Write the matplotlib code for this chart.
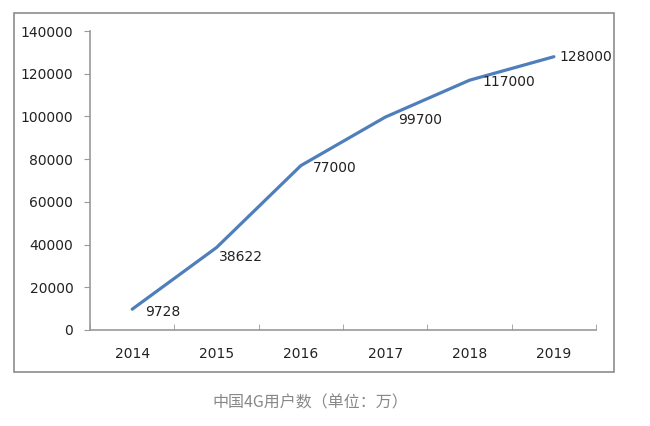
import matplotlib.pyplot as plt
from matplotlib.patches import Rectangle

years = ['2014', '2015', '2016', '2017', '2018', '2019']
users = [9728, 38622, 77000, 99700, 117000, 128000]

# label offsets in points (dx, dy)
offsets = [(9, -2), (2, -7), (9, -2), (9, -2), (9, -1), (4, 0)]

fig = plt.figure(figsize=(6.5, 4.26), dpi=100)
ax = fig.add_axes([0.1385, 0.2254, 0.7785, 0.7016])

x = range(len(years))
ax.plot(x, users, color='#4f7fba', linewidth=2.3, solid_capstyle='round')

for i, v in enumerate(users):
    ax.annotate(str(v), (i, v), xytext=offsets[i], textcoords='offset points',
                ha='left', va='center', fontsize=10, color='#222222')

ax.set_xlim(-0.5, 5.5)
ax.set_ylim(0, 140000)
ax.set_yticks(range(0, 140001, 20000))
ax.set_xticks(list(x))
ax.set_xticklabels(years)
ax.set_xticks([i - 0.5 for i in range(len(years) + 1)], minor=True)
ax.tick_params(axis='x', which='major', length=0, pad=12, labelsize=10, labelcolor='#222222')
ax.tick_params(axis='x', which='minor', length=4, color='#999999', direction='in')
ax.tick_params(axis='y', length=4, color='#999999', pad=8, labelsize=10, labelcolor='#222222')

for s in ['top', 'right']:
    ax.spines[s].set_visible(False)
for s in ['left', 'bottom']:
    ax.spines[s].set_color('#999999')
    ax.spines[s].set_linewidth(1.2)

fig.patches.append(Rectangle((0.0215, 0.1268), 0.923, 0.8427, transform=fig.transFigure,
                             fill=False, edgecolor='#8c8c8c', linewidth=1.2))

fig.text(0.477, 0.054, '中国4G用户数（单位：万）', ha='center', va='center',
         fontsize=11.5, color='#888888', family=['Noto Sans CJK SC', 'DejaVu Sans'])

fig.savefig('out.png', dpi=100)
